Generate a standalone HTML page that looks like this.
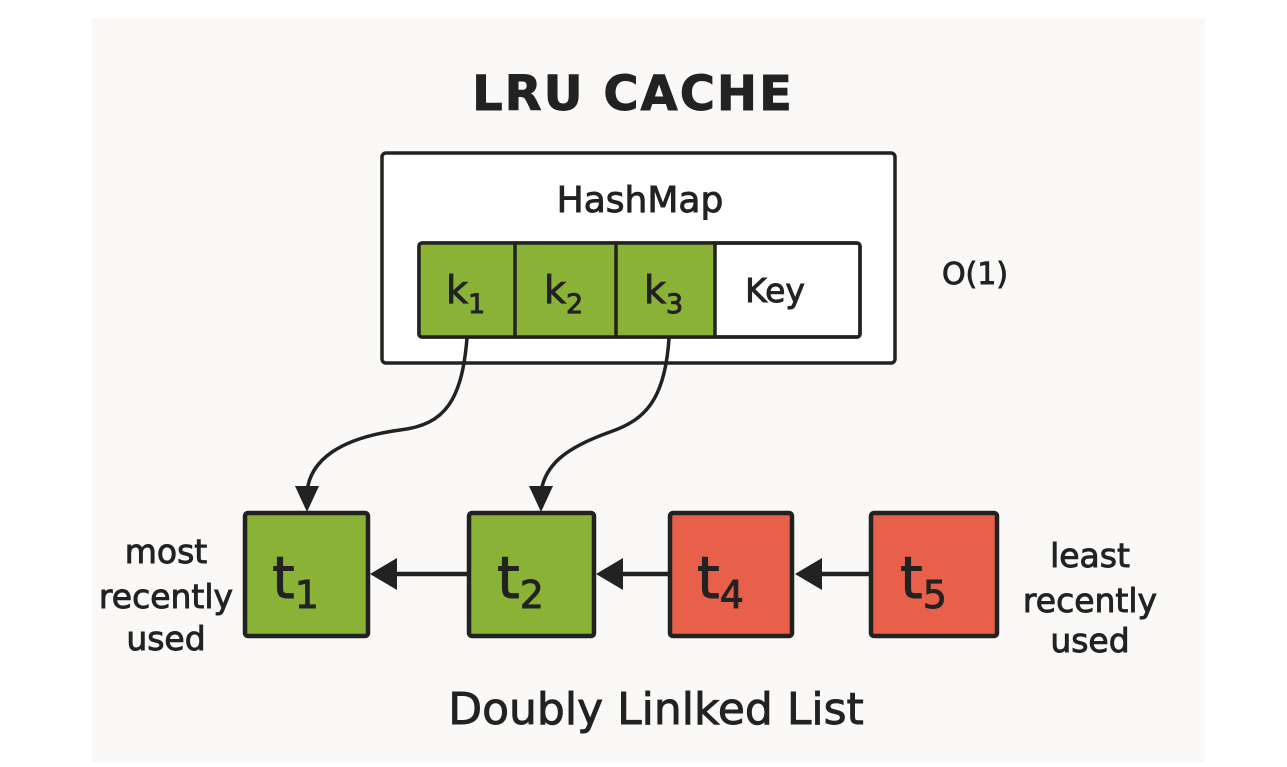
<!DOCTYPE html>
<html><head><style>
body{margin:0;background:#fff;}
svg{display:block}
text{font-family:"DejaVu Sans","Liberation Sans",sans-serif;fill:#222;stroke:#222;stroke-width:0.9}
</style></head><body>
<svg width="1287" height="767" viewBox="0 0 1287 767" xmlns="http://www.w3.org/2000/svg">
<rect x="0" y="0" width="1287" height="767" fill="#ffffff"/>
<rect x="92" y="18" width="1113" height="744" fill="#faf9f7"/>
<text x="633" y="110" font-size="48" font-weight="bold" text-anchor="middle" letter-spacing="2">LRU CACHE</text>
<rect x="382" y="153" width="513" height="210" rx="4" fill="#fff" stroke="#222" stroke-width="3.5"/>
<text x="640" y="212" font-size="36" text-anchor="middle">HashMap</text>
<rect x="419" y="243" width="441" height="94" rx="3" fill="#fff" stroke="#222" stroke-width="3.5"/>
<rect x="420" y="244" width="295" height="92" fill="#8ab236"/>
<line x1="515" y1="243" x2="515" y2="337" stroke="#222" stroke-width="3.5"/>
<line x1="616" y1="243" x2="616" y2="337" stroke="#222" stroke-width="3.5"/>
<line x1="715" y1="243" x2="715" y2="337" stroke="#222" stroke-width="3.5"/>
<rect x="419" y="243" width="441" height="94" rx="3" fill="none" stroke="#222" stroke-width="3.5"/>
<text x="446" y="303" font-size="38">k<tspan font-size="27" dy="10">1</tspan></text>
<text x="544" y="303" font-size="38">k<tspan font-size="27" dy="10">2</tspan></text>
<text x="644" y="303" font-size="38">k<tspan font-size="27" dy="10">3</tspan></text>
<text x="775" y="302" font-size="33" text-anchor="middle">Key</text>
<text x="975" y="284" font-size="30" text-anchor="middle">O(1)</text>
<g fill="none" stroke="#222" stroke-width="3.5">
<path d="M467 338 C462 400 445 425 400 430 C340 438 310 460 307 492"/>
<path d="M669 338 C665 400 645 420 610 432 C565 448 545 465 541 492"/>
<line x1="468" y1="574" x2="395" y2="574" stroke-width="4.5"/>
<line x1="669" y1="574" x2="620" y2="574" stroke-width="4.5"/>
<line x1="870" y1="574" x2="820" y2="574" stroke-width="4.5"/>
</g>
<g fill="#222">
<polygon points="295,486 319,486 307,512"/>
<polygon points="529,486 553,486 541,512"/>
<polygon points="370,574 397,558 397,590"/>
<polygon points="596,574 623,558 623,590"/>
<polygon points="795,574 822,558 822,590"/>
</g>
<g stroke="#222" stroke-width="4.5">
<rect x="245" y="513" width="123" height="123" rx="3" fill="#8ab236"/>
<rect x="469" y="513" width="125" height="123" rx="3" fill="#8ab236"/>
<rect x="670" y="513" width="122" height="123" rx="3" fill="#e8604a"/>
<rect x="871" y="513" width="126" height="123" rx="3" fill="#e8604a"/>
</g>
<text x="272" y="598" font-size="58">t<tspan font-size="38" dy="10">1</tspan></text>
<text x="497" y="598" font-size="58">t<tspan font-size="38" dy="10">2</tspan></text>
<text x="697" y="598" font-size="58">t<tspan font-size="38" dy="10">4</tspan></text>
<text x="900" y="598" font-size="58">t<tspan font-size="38" dy="10">5</tspan></text>
<g font-size="33" text-anchor="middle">
<text x="166" y="563">most</text>
<text x="166" y="608">recently</text>
<text x="166" y="650">used</text>
<text x="1090" y="567">least</text>
<text x="1090" y="612">recently</text>
<text x="1090" y="652">used</text>
</g>
<text x="656" y="724" font-size="44" text-anchor="middle">Doubly Linlked List</text>
</svg>
</body></html>
